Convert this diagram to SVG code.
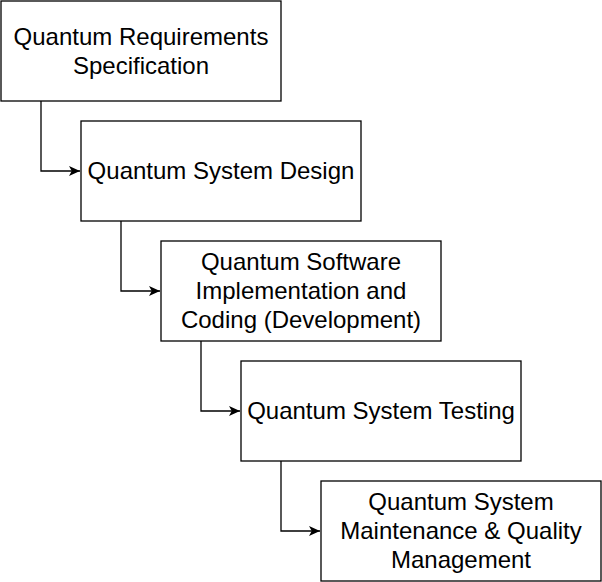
<svg xmlns="http://www.w3.org/2000/svg" width="602" height="582" viewBox="0 0 602 582">
<style>
.box{fill:#fff;stroke:#000;stroke-width:1.3}
.lbl{font-family:"Liberation Sans",Arial,sans-serif;font-size:24px;fill:#000;text-anchor:middle}
.conn{fill:none;stroke:#000;stroke-width:1.3}
</style>
<defs>
<marker id="arr" viewBox="0 0 10 10" refX="10" refY="5" markerWidth="11" markerHeight="11" markerUnits="userSpaceOnUse" orient="auto">
<path d="M0,0.5 L10,5 L0,9.5 L2.5,5 Z" fill="#000"/>
</marker>
</defs>
<rect width="602" height="582" fill="#fff"/>
<g id="connectors">
<path class="conn" d="M41,101 V171 H80" marker-end="url(#arr)"/>
<path class="conn" d="M121,221 V291 H160" marker-end="url(#arr)"/>
<path class="conn" d="M201,341 V411 H240" marker-end="url(#arr)"/>
<path class="conn" d="M281,461 V531 H320" marker-end="url(#arr)"/>
</g>
<g id="n1">
<rect class="box" x="1" y="1" width="280" height="100"/>
<text class="lbl" x="141" y="44.5">Quantum Requirements</text>
<text class="lbl" x="141" y="73.5">Specification</text>
</g>
<g id="n2">
<rect class="box" x="81" y="121" width="280" height="100"/>
<text class="lbl" x="221" y="178.5">Quantum System Design</text>
</g>
<g id="n3">
<rect class="box" x="161" y="241" width="280" height="100"/>
<text class="lbl" x="301" y="269.5">Quantum Software</text>
<text class="lbl" x="301" y="298.5">Implementation and</text>
<text class="lbl" x="301" y="327.5">Coding (Development)</text>
</g>
<g id="n4">
<rect class="box" x="241" y="361" width="280" height="100"/>
<text class="lbl" x="381" y="418.5">Quantum System Testing</text>
</g>
<g id="n5">
<rect class="box" x="321" y="481" width="280" height="100"/>
<text class="lbl" x="461" y="509.5">Quantum System</text>
<text class="lbl" x="461" y="538.5">Maintenance &amp; Quality</text>
<text class="lbl" x="461" y="567.5">Management</text>
</g>
</svg>
